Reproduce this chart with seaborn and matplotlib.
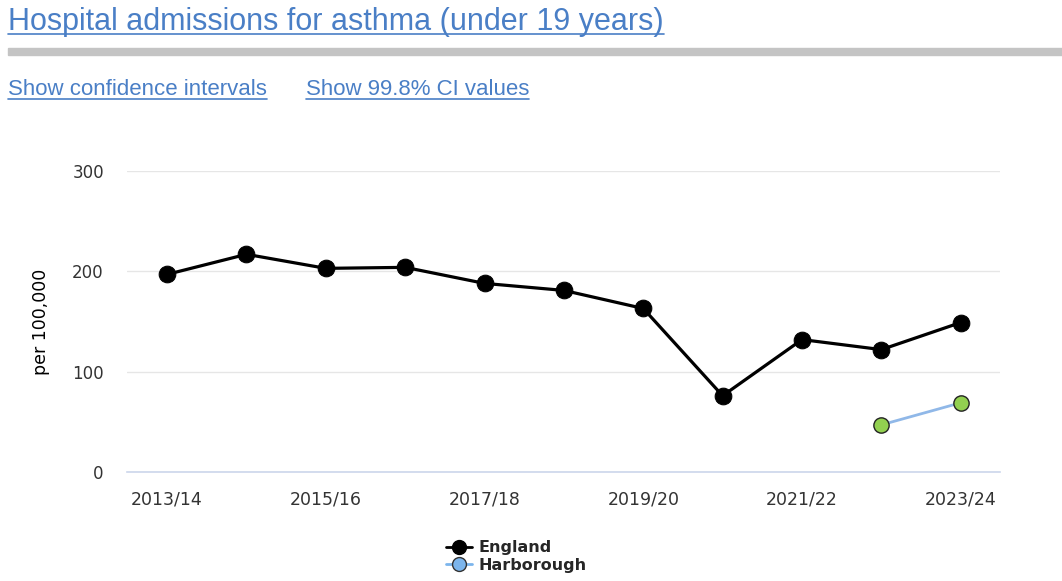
import matplotlib
matplotlib.use("Agg")
import matplotlib.pyplot as plt
import numpy as np
import seaborn as sb
import pandas as pd
from matplotlib.lines import Line2D

# Data
years = ["2013/14", "2014/15", "2015/16", "2016/17", "2017/18", "2018/19",
         "2019/20", "2020/21", "2021/22", "2022/23", "2023/24"]
england = [197, 217, 203, 204, 188, 181, 163, 76, 132, 122, 149]
harb_years = ["2022/23", "2023/24"]
harborough = [47, 69]
y_ticks = [0, 100, 200, 300]

df_eng = pd.DataFrame({"pos": range(len(years)), "value": england})
df_harb = pd.DataFrame({"pos": [years.index(y) for y in harb_years], "value": harborough})

sb.set_style("white")
plt.rcParams["font.family"] = ["DejaVu Sans"]

fig = plt.figure(figsize=(10.62, 5.81), dpi=100)
ax = fig.add_axes([0.12, 0.1876, 0.822, 0.518])

# Series
sb.lineplot(data=df_eng, x="pos", y="value", ax=ax, color="black", linewidth=2.3,
            marker="o", markersize=12, markerfacecolor="black",
            markeredgecolor="black", zorder=3)
sb.lineplot(data=df_harb, x="pos", y="value", ax=ax, color="#90b8e8", linewidth=2,
            marker="o", markersize=11, markerfacecolor="#92d050",
            markeredgecolor="#222222", markeredgewidth=1, zorder=3)

ax.set_xlim(-0.5, len(years) - 0.5)
ax.set_ylim(0, 300)
ax.set_yticks(y_ticks)
ax.set_yticklabels([str(t) for t in y_ticks], fontsize=12, color="#333333")
ax.set_xticks(range(len(years)))
ax.set_xticklabels([y if i % 2 == 0 else "" for i, y in enumerate(years)],
                   fontsize=12.5, color="#333333")
ax.tick_params(axis="x", length=5, color="#ccd6eb", pad=8)
ax.tick_params(axis="y", length=0, pad=17)
ax.set_xlabel("")
ax.set_ylabel("per 100,000", fontsize=12.5, color="black", labelpad=16)
ax.grid(axis="y", color="#e6e6e6", linewidth=1)
for s in ["top", "right", "left"]:
    ax.spines[s].set_visible(False)
ax.spines["bottom"].set_color("#ccd6eb")
ax.spines["bottom"].set_linewidth(1.2)

# Legend
handles = [
    Line2D([], [], color="black", linewidth=2, marker="o", markersize=10,
           markerfacecolor="black", markeredgecolor="black"),
    Line2D([], [], color="#7cb5ec", linewidth=2, marker="o", markersize=10,
           markerfacecolor="#7cb5ec", markeredgecolor="#333333"),
]
fig.legend(handles, ["England", "Harborough"], loc="center",
           bbox_to_anchor=(0.486, 0.042), frameon=False, handlelength=1.6,
           handletextpad=0.4, labelspacing=0.15,
           prop={"weight": "bold", "size": 11.5})

# Header
link = "#4a7fc6"
title = fig.text(8 / 1062, 1 - 30 / 581, "Hospital admissions for asthma (under 19 years)",
                 fontsize=22, color=link, family="Liberation Sans", va="baseline")
fig.patches.append(plt.Rectangle((8 / 1062, 1 - 55 / 581), 1, 7 / 581,
                                 transform=fig.transFigure, color="#c4c4c4"))
l1 = fig.text(8 / 1062, 1 - 95 / 581, "Show confidence intervals",
              fontsize=16, color=link, family="Liberation Sans", va="baseline")
l2 = fig.text(306 / 1062, 1 - 95 / 581, "Show 99.8% CI values",
              fontsize=16, color=link, family="Liberation Sans", va="baseline")

r = fig.canvas.get_renderer()
for t, off in [(title, 4), (l1, 4), (l2, 4)]:
    bb = t.get_window_extent(r)
    yb = t.get_position()[1] * 581
    y = (yb - off) / 581
    fig.add_artist(Line2D([bb.x0 / 1062, bb.x1 / 1062], [y, y],
                          transform=fig.transFigure, color=link, linewidth=1.2))

fig.savefig("out.png", dpi=100)
